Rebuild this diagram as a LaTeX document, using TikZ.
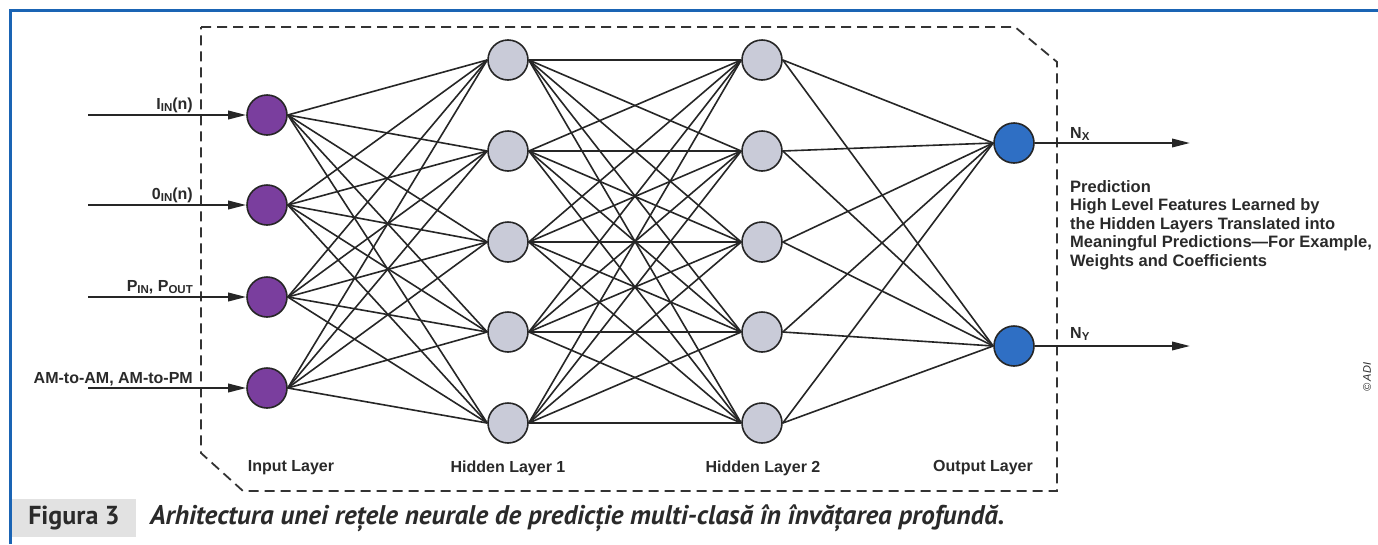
\documentclass[tikz,border=0pt]{standalone}
\usepackage{fontspec}
\setmainfont{Liberation Sans}
\newfontfamily\capfont{PT Sans}
\usetikzlibrary{arrows.meta}
\definecolor{frameblue}{HTML}{1A64B4}
\definecolor{inpurple}{HTML}{7A3E9E}
\definecolor{hidgray}{HTML}{C9CBD8}
\definecolor{outblue}{HTML}{2F6FC4}
\definecolor{txt}{HTML}{2A2A2A}
\definecolor{capgray}{HTML}{E2E2E2}
\newcommand\mysub[1]{\raisebox{-0.35ex}{\fontsize{11.5}{11.5}\selectfont #1}}
\begin{document}
\begin{tikzpicture}[x=1pt,y=-1pt,
 neuron/.style={circle,draw=black!85,line width=1.6pt,minimum size=40pt,inner sep=0pt},
 inneuron/.style={neuron,fill=inpurple},
 hidneuron/.style={neuron,fill=hidgray},
 outneuron/.style={neuron,fill=outblue},
 link/.style={line width=1.6pt,draw=black!85},
 sig/.style={line width=2pt,draw=black!85,-{Triangle[length=18pt,width=8.5pt]}},
 lbl/.style={font=\bfseries\fontsize{16}{18}\selectfont,text=txt,inner sep=0pt},
 bound/.style={line width=1.8pt,draw=black!80,dash pattern=on 10pt off 6pt}]
\useasboundingbox (0,0) rectangle (1378,544);
\fill[white] (0,0) rectangle (1378,544);
\draw[frameblue,line width=3pt] (10,544) -- (10,10) -- (1378,10);
% dashed boundary
\coordinate (b1) at (201,27);
\coordinate (b2) at (1015,27);
\coordinate (b3) at (1057,62);
\coordinate (b4) at (1057,491);
\coordinate (b5) at (243,491);
\coordinate (b6) at (201,453);
\draw[bound] (b1) -- (b2) -- (b3) -- (b4) -- (b5) -- (b6) -- cycle;
% neurons
\foreach \i/\y in {1/115,2/205,3/297,4/388} \node[inneuron] (i\i) at (267,\y) {};
\foreach \i/\y in {1/60,2/151,3/242,4/332,5/423} {
  \node[hidneuron] (h\i) at (508,\y) {};
  \node[hidneuron] (g\i) at (762,\y) {};
}
\node[outneuron] (o1) at (1014,143) {};
\node[outneuron] (o2) at (1014,346) {};
% links
\foreach \a in {1,...,4} \foreach \b in {1,...,5} \draw[link] (i\a.east) -- (h\b.west);
\foreach \a in {1,...,5} \foreach \b in {1,...,5} \draw[link] (h\a.east) -- (g\b.west);
\foreach \a in {1,...,5} \foreach \b in {1,2} \draw[link] (g\a.east) -- (o\b.west);
% input signals
\foreach \i/\y in {1/115,2/205,3/297,4/388} {
  \coordinate (s\i) at (88,\y);
  \draw[sig] (s\i) -- (i\i.west);
}
\node[lbl,anchor=base east] (li1) at (193,109) {I\mysub{IN}(n)};
\node[lbl,anchor=base east] (li2) at (193,199) {0\mysub{IN}(n)};
\node[lbl,anchor=base east] (li3) at (193,291) {P\mysub{IN}, P\mysub{OUT}};
\node[lbl,anchor=base east] (li4) at (193,383) {AM-to-AM, AM-to-PM};
% outputs
\coordinate (t1) at (1190,143);
\coordinate (t2) at (1190,346);
\draw[sig] (o1.east) -- (t1);
\draw[sig] (o2.east) -- (t2);
\node[lbl,anchor=base west] (lo1) at (1070,138) {N\mysub{X}};
\node[lbl,anchor=base west] (lo2) at (1070,338) {N\mysub{Y}};
\node[lbl,anchor=north west,align=left,font=\bfseries\fontsize{16.5}{18.5}\selectfont] (pred) at (1070,180)
 {Prediction\\High Level Features Learned by\\the Hidden Layers Translated into\\Meaningful Predictions—For Example,\\Weights and Coefficients};
% layer labels
\node[lbl] (ll1) at (291,468) {Input Layer};
\node[lbl] (ll2) at (508,468) {Hidden Layer 1};
\node[lbl] (ll3) at (763,468) {Hidden Layer 2};
\node[lbl] (ll4) at (983,468) {Output Layer};
% copyright
\node[rotate=90,font=\itshape\fontsize{11}{11}\selectfont,text=txt] (adi) at (1367,377) {\textcopyright\,ADI};
% caption
\fill[capgray] (12,499) rectangle (136,537);
\node[font=\capfont\bfseries\fontsize{26}{28}\selectfont,text=txt] (fig) at (74,518) {Figura 3};
\node[anchor=west,inner sep=0pt,font=\capfont\bfseries\itshape\fontsize{27}{29}\selectfont,text=txt] (cap) at (150,518)
 {Arhitectura unei rețele neurale de predicție multi-clasă în învățarea profundă.};
\end{tikzpicture}
\end{document}
